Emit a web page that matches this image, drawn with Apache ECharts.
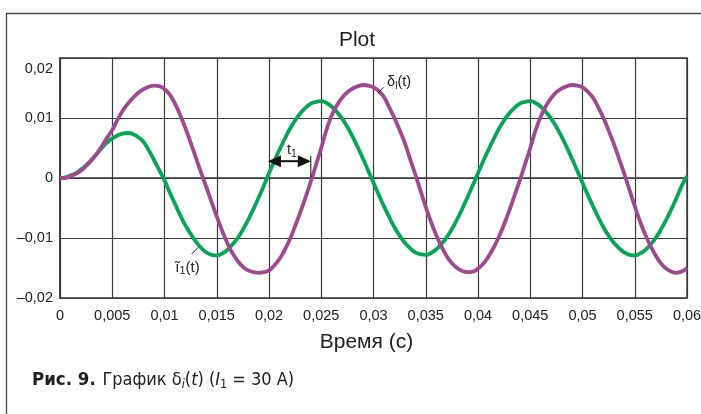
<!DOCTYPE html>
<html>
<head>
<meta charset="utf-8">
<script src="https://cdn.jsdelivr.net/npm/echarts@6/dist/echarts.min.js"></script>
<style>
  html, body { margin: 0; padding: 0; background: #ffffff; }
  #chart { width: 701px; height: 414px; }
</style>
</head>
<body>
<div id="chart"></div>
<script>
// Sample instants, s (0.5 ms step)
const time = [
  0.0000, 0.0005, 0.0010, 0.0015, 0.0020, 0.0025, 0.0030, 0.0035, 0.0040, 0.0045,
  0.0050, 0.0055, 0.0060, 0.0065, 0.0070, 0.0075, 0.0080, 0.0085, 0.0090, 0.0095,
  0.0100, 0.0105, 0.0110, 0.0115, 0.0120, 0.0125, 0.0130, 0.0135, 0.0140, 0.0145,
  0.0150, 0.0155, 0.0160, 0.0165, 0.0170, 0.0175, 0.0180, 0.0185, 0.0190, 0.0195,
  0.0200, 0.0205, 0.0210, 0.0215, 0.0220, 0.0225, 0.0230, 0.0235, 0.0240, 0.0245,
  0.0250, 0.0255, 0.0260, 0.0265, 0.0270, 0.0275, 0.0280, 0.0285, 0.0290, 0.0295,
  0.0300, 0.0305, 0.0310, 0.0315, 0.0320, 0.0325, 0.0330, 0.0335, 0.0340, 0.0345,
  0.0350, 0.0355, 0.0360, 0.0365, 0.0370, 0.0375, 0.0380, 0.0385, 0.0390, 0.0395,
  0.0400, 0.0405, 0.0410, 0.0415, 0.0420, 0.0425, 0.0430, 0.0435, 0.0440, 0.0445,
  0.0450, 0.0455, 0.0460, 0.0465, 0.0470, 0.0475, 0.0480, 0.0485, 0.0490, 0.0495,
  0.0500, 0.0505, 0.0510, 0.0515, 0.0520, 0.0525, 0.0530, 0.0535, 0.0540, 0.0545,
  0.0550, 0.0555, 0.0560, 0.0565, 0.0570, 0.0575, 0.0580, 0.0585, 0.0590, 0.0595,
  0.0600
];

// Current ĩ1(t)
const currentI1 = [
  0.0000, 0.0001, 0.0004, 0.0008, 0.0014, 0.0021, 0.0030, 0.0040, 0.0050, 0.0059,
  0.0066, 0.0071, 0.0074, 0.0075, 0.0073, 0.0068, 0.0060, 0.0046, 0.0030, 0.0013,
  -0.0004, -0.0024, -0.0043, -0.0062, -0.0079, -0.0093, -0.0106, -0.0116, -0.0124, -0.0128,
  -0.0129, -0.0126, -0.0120, -0.0111, -0.0100, -0.0086, -0.0070, -0.0052, -0.0033, -0.0013,
  0.0008, 0.0028, 0.0047, 0.0065, 0.0082, 0.0096, 0.0108, 0.0117, 0.0124, 0.0127,
  0.0128, 0.0125, 0.0119, 0.0110, 0.0099, 0.0085, 0.0069, 0.0051, 0.0032, 0.0012,
  -0.0008, -0.0028, -0.0047, -0.0065, -0.0082, -0.0096, -0.0108, -0.0117, -0.0124, -0.0127,
  -0.0128, -0.0125, -0.0119, -0.0110, -0.0099, -0.0085, -0.0069, -0.0051, -0.0032, -0.0012,
  0.0008, 0.0028, 0.0047, 0.0065, 0.0082, 0.0096, 0.0108, 0.0117, 0.0124, 0.0127,
  0.0128, 0.0125, 0.0119, 0.0110, 0.0099, 0.0085, 0.0069, 0.0051, 0.0032, 0.0012,
  -0.0008, -0.0028, -0.0047, -0.0065, -0.0082, -0.0096, -0.0108, -0.0117, -0.0124, -0.0128,
  -0.0129, -0.0126, -0.0120, -0.0111, -0.0100, -0.0086, -0.0070, -0.0052, -0.0033, -0.0013,
  0.0003
];

// Signal δl(t)
const deltaL = [
  0.0000, 0.0000, 0.0003, 0.0007, 0.0012, 0.0020, 0.0029, 0.0040, 0.0053, 0.0067,
  0.0080, 0.0097, 0.0112, 0.0124, 0.0134, 0.0142, 0.0148, 0.0152, 0.0154, 0.0153,
  0.0148, 0.0139, 0.0124, 0.0105, 0.0083, 0.0059, 0.0034, 0.0009, -0.0015, -0.0040,
  -0.0064, -0.0087, -0.0108, -0.0125, -0.0138, -0.0148, -0.0154, -0.0157, -0.0158, -0.0157,
  -0.0154, -0.0146, -0.0135, -0.0120, -0.0102, -0.0080, -0.0057, -0.0032, -0.0006, 0.0022,
  0.0050, 0.0080, 0.0104, 0.0121, 0.0134, 0.0143, 0.0149, 0.0153, 0.0155, 0.0154,
  0.0151, 0.0145, 0.0135, 0.0118, 0.0100, 0.0080, 0.0058, 0.0032, 0.0006, -0.0021,
  -0.0048, -0.0073, -0.0095, -0.0114, -0.0130, -0.0142, -0.0150, -0.0155, -0.0157, -0.0156,
  -0.0151, -0.0143, -0.0131, -0.0116, -0.0098, -0.0077, -0.0054, -0.0029, -0.0004, 0.0023,
  0.0050, 0.0079, 0.0102, 0.0120, 0.0133, 0.0143, 0.0149, 0.0153, 0.0155, 0.0154,
  0.0151, 0.0144, 0.0134, 0.0118, 0.0100, 0.0079, 0.0057, 0.0032, 0.0007, -0.0020,
  -0.0047, -0.0072, -0.0094, -0.0113, -0.0129, -0.0142, -0.0151, -0.0156, -0.0158, -0.0156,
  -0.0150
];

const xTickLabels = ['0', '0,005', '0,01', '0,015', '0,02', '0,025', '0,03',
                     '0,035', '0,04', '0,045', '0,05', '0,055', '0,06'];
const yTickLabels = ['–0,02', '–0,01', '0', '0,01', '0,02'];

const GREEN = '#08a457';
const PURPLE = '#a04a8e';
const INK = '#222222';
const GRID = '#3a3a3a';
const SANS = '"Liberation Sans", Arial, sans-serif';
const NARROW = '"Liberation Sans Narrow", "DejaVu Sans Condensed", "Liberation Sans", sans-serif';

const chart = echarts.init(document.getElementById('chart'), null, { renderer: 'canvas' });

chart.setOption({
  animation: false,
  backgroundColor: '#ffffff',
  grid: {
    left: 60, right: 14, top: 58, bottom: 116,
    show: true, borderColor: GRID, borderWidth: 1.5,
    outerBoundsMode: 'none'
  },
  xAxis: {
    type: 'value', min: 0, max: 0.06, interval: 0.005,
    name: 'Время (с)', nameLocation: 'middle', nameGap: 34,
    nameTextStyle: { fontFamily: SANS, fontSize: 21, color: INK, padding: [0, 14, 0, 0] },
    axisLine: { show: true, lineStyle: { color: GRID, width: 1.5 } },
    axisTick: { show: false },
    splitLine: { show: true, lineStyle: { color: GRID, width: 1.2 } },
    axisLabel: {
      fontFamily: SANS, fontSize: 14.5, color: INK, margin: 10,
      formatter: v => xTickLabels[Math.round(v / 0.005)]
    }
  },
  yAxis: {
    type: 'value', min: -0.02, max: 0.02, interval: 0.01,
    axisLine: { show: true, lineStyle: { color: GRID, width: 1.5 } },
    axisTick: { show: false },
    splitLine: { show: true, lineStyle: { color: GRID, width: 1.2 } },
    axisLabel: {
      fontFamily: SANS, fontSize: 14.5, color: INK, margin: 7,
      verticalAlignMaxLabel: 'top',
      formatter: v => {
        const k = Math.round(v / 0.01) + 2;
        return k === yTickLabels.length - 1 ? '{top|' + yTickLabels[k] + '}' : yTickLabels[k];
      },
      rich: { top: { fontFamily: SANS, fontSize: 14.5, color: INK, padding: [3, 0, 0, 0] } }
    }
  },
  series: [
    {
      name: 'ĩ1(t)', type: 'line', smooth: true, symbol: 'none',
      lineStyle: { color: GREEN, width: 3.8 },
      data: time.map((t, i) => [t, currentI1[i]])
    },
    {
      name: 'δl(t)', type: 'line', smooth: true, symbol: 'none',
      lineStyle: { color: PURPLE, width: 3.8 },
      data: time.map((t, i) => [t, deltaL[i]])
    }
  ]
});

// Annotations placed in data coordinates
const deltaLabel = { at: [0.0313, 0.0160], lead: [[0.03046, 0.01412], [0.03094, 0.01512]] };
const currentLabel = { at: [0.0122, -0.0149], lead: [[0.0126, -0.01267], [0.01323, -0.01155]] };
const lag = { from: 0.0199, to: 0.0240, level: 0.0028, labelAt: [0.0222, 0.0047], barFrom: 0.0001, barTo: 0.0037 };

const px = p => chart.convertToPixel({ gridIndex: 0 }, p);

function leadLine(seg) {
  const a = px(seg[0]), b = px(seg[1]);
  return { type: 'line', z: 20, shape: { x1: a[0], y1: a[1], x2: b[0], y2: b[1] },
           style: { stroke: INK, lineWidth: 1 } };
}

const dl = px(deltaLabel.at);
const cl = px(currentLabel.at);
const aL = px([lag.from, lag.level]);
const aR = px([lag.to, lag.level]);
const lagTxt = px(lag.labelAt);
const barA = px([lag.to, lag.barFrom]);
const barB = px([lag.to, lag.barTo]);
const headLen = 13, headHalf = 6;

chart.setOption({
  graphic: [
    // page frame
    { type: 'polyline', z: 1, shape: { points: [[6.5, 414], [6.5, 13.5], [701, 13.5]] },
      style: { stroke: '#4a4a4a', lineWidth: 1.3, fill: null } },
    // title
    { type: 'text', z: 10, x: 357, y: 40.5,
      style: { text: 'Plot', fontFamily: SANS, fontSize: 21, fill: INK, align: 'center', verticalAlign: 'middle' } },
    // δl(t) label
    leadLine(deltaLabel.lead),
    { type: 'text', z: 20, x: dl[0], y: dl[1],
      style: {
        text: '{m|δ}{s|l}{m|(t)}', align: 'left', verticalAlign: 'middle',
        rich: {
          m: { fontFamily: SANS, fontSize: 14.5, fill: INK },
          s: { fontFamily: SANS, fontSize: 10, fill: INK, padding: [9, 0, 0, 0] }
        }
      } },
    // ĩ1(t) label
    leadLine(currentLabel.lead),
    { type: 'text', z: 20, x: cl[0], y: cl[1],
      style: {
        text: '{m|ĩ}{s|1}{m|(t)}', align: 'center', verticalAlign: 'middle',
        rich: {
          m: { fontFamily: SANS, fontSize: 15, fill: INK },
          s: { fontFamily: SANS, fontSize: 11, fill: INK, padding: [8, 0, 0, 0] }
        }
      } },
    // lag t1 arrow
    { type: 'line', z: 20, shape: { x1: aL[0] + headLen - 1, y1: aL[1], x2: aR[0] - headLen + 1, y2: aR[1] },
      style: { stroke: '#111', lineWidth: 2 } },
    { type: 'polygon', z: 20,
      shape: { points: [[aL[0], aL[1]], [aL[0] + headLen, aL[1] - headHalf], [aL[0] + headLen, aL[1] + headHalf]] },
      style: { fill: '#111' } },
    { type: 'polygon', z: 20,
      shape: { points: [[aR[0], aR[1]], [aR[0] - headLen, aR[1] - headHalf], [aR[0] - headLen, aR[1] + headHalf]] },
      style: { fill: '#111' } },
    { type: 'line', z: 20, shape: { x1: barA[0], y1: barA[1], x2: barB[0], y2: barB[1] },
      style: { stroke: '#111', lineWidth: 1 } },
    { type: 'text', z: 20, x: lagTxt[0], y: lagTxt[1],
      style: {
        text: '{m|t}{s|1}', align: 'center', verticalAlign: 'middle',
        rich: {
          m: { fontFamily: SANS, fontSize: 14.5, fill: INK },
          s: { fontFamily: SANS, fontSize: 10.5, fill: INK, padding: [8, 0, 0, 0] }
        }
      } },
    // figure caption
    { type: 'text', z: 10, x: 32, y: 380,
      style: {
        text: '{b|Рис. 9.}  {n|График δ}{si|i}{n|(}{it|t}{n|) (}{it|I}{sub|1}{n| = 30 A)}',
        align: 'left', verticalAlign: 'middle',
        rich: {
          b: { fontFamily: NARROW, fontSize: 18.5, fontWeight: 'bold', fill: INK },
          n: { fontFamily: NARROW, fontSize: 18, fill: INK },
          it: { fontFamily: NARROW, fontSize: 18, fontStyle: 'italic', fill: INK },
          si: { fontFamily: NARROW, fontSize: 12.5, fontStyle: 'italic', fill: INK, padding: [9, 0, 0, 0] },
          sub: { fontFamily: NARROW, fontSize: 12.5, fill: INK, padding: [9, 0, 0, 0] }
        }
      } }
  ]
});
</script>
</body>
</html>
